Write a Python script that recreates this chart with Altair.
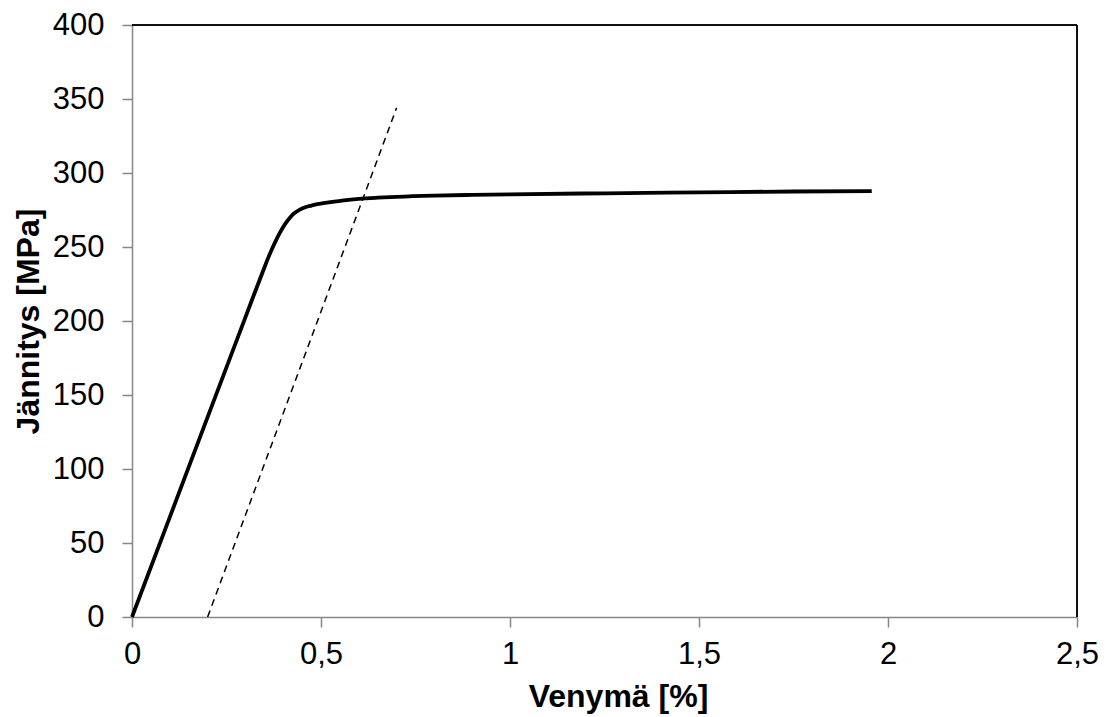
import altair as alt
import pandas as pd

# Main stress-strain curve
strain = [0.0, 0.1, 0.2, 0.3, 0.35, 0.36, 0.37, 0.38, 0.39, 0.40, 0.41, 0.42, 0.43,
          0.444, 0.46, 0.475, 0.49, 0.506, 0.53, 0.56, 0.6, 0.65, 0.7, 0.8, 0.9,
          1.0, 1.25, 1.5, 1.75, 1.957]
stress = [0.0, 67.5, 135.0, 202.5, 236.0, 242.5, 248.5, 254.0, 259.0, 263.5, 267.3,
          270.5, 273.0, 275.3, 277.0, 278.0, 278.9, 279.6, 280.5, 281.5, 282.5, 283.3,
          283.9, 284.7, 285.2, 285.6, 286.3, 286.9, 287.5, 287.8]

# Offset (0.2 %) line
offset_strain = [0.2, 0.7]
offset_stress = [0.0, 344.0]

x_ticks = [0, 0.5, 1, 1.5, 2, 2.5]
y_ticks = [0, 50, 100, 150, 200, 250, 300, 350, 400]

W, H = 945, 592
FONT = "Liberation Sans"
LBL = 31
TTL = 32

main_df = pd.DataFrame({"x": strain, "y": stress, "o": list(range(len(strain)))})
off_df = pd.DataFrame({"x": offset_strain, "y": offset_stress})

xscale = alt.Scale(domain=[0, 2.5], nice=False)
yscale = alt.Scale(domain=[0, 400], nice=False)

xaxis = alt.Axis(
    title="Venymä [%]", values=x_ticks,
    labelExpr="replace(toString(datum.value), '.', ',')",
    grid=False, domainColor="#878787", domainWidth=1.5, tickColor="#878787",
    tickWidth=1.5, tickSize=10, labelPadding=12, labelFontSize=LBL, labelColor="black",
    labelFont=FONT, titleFont=FONT, titleFontSize=TTL, titleFontWeight="bold",
    titleColor="black", titleX=486, titleY=79, titleBaseline="middle",
    titleAlign="center", labelFlush=False,
)
yaxis = alt.Axis(
    title="Jännitys [MPa]", values=y_ticks,
    grid=False, domainColor="#878787", domainWidth=1.5, tickColor="#878787",
    tickWidth=1.5, tickSize=10, labelPadding=18, labelFontSize=LBL, labelColor="black",
    labelFont=FONT, titleFont=FONT, titleFontSize=TTL, titleFontWeight="bold",
    titleColor="black", titleX=-104, titleY=296, titleBaseline="middle",
    titleAlign="center", labelFlush=False,
)

main = alt.Chart(main_df).mark_line(color="black", strokeWidth=3.8,
                                    strokeJoin="round", interpolate="monotone").encode(
    x=alt.X("x:Q", scale=xscale, axis=xaxis),
    y=alt.Y("y:Q", scale=yscale, axis=yaxis),
    order="o:Q",
)

offset = alt.Chart(off_df).mark_line(color="black", strokeWidth=1.5, strokeDash=[7, 5]).encode(
    x=alt.X("x:Q", scale=xscale),
    y=alt.Y("y:Q", scale=yscale),
)

top_border = alt.Chart(off_df).mark_rule(color="black", strokeWidth=1.5).encode(
    x=alt.value(0), x2=alt.value(W), y=alt.value(0)
)
right_border = alt.Chart(off_df).mark_rule(color="black", strokeWidth=1.5).encode(
    x=alt.value(W), y=alt.value(0), y2=alt.value(H)
)

chart = alt.layer(main, offset, top_border, right_border).properties(
    width=W, height=H,
    autosize=alt.AutoSizeParams(type="none"),
    padding={"left": 124, "top": 17, "right": 22, "bottom": 100},
    background="white",
).configure_view(stroke=None)

chart.save("out.html", embed_options={"renderer": "svg", "actions": False})
